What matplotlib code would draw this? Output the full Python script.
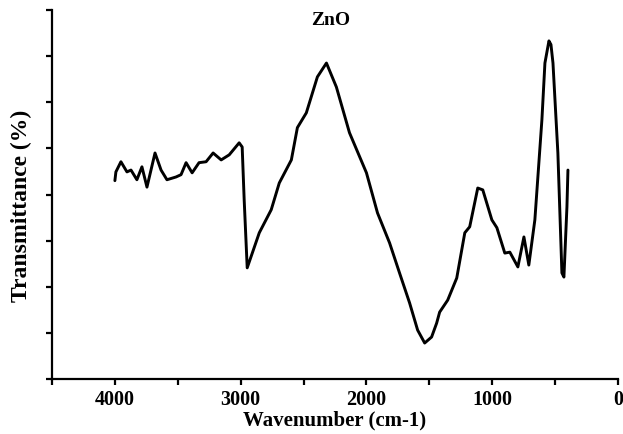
"""FTIR spectrum of ZnO, transmittance vs wavenumber."""
import numpy as np
import matplotlib
matplotlib.use("Agg")
import matplotlib.pyplot as plt
from matplotlib.ticker import MultipleLocator, NullFormatter

# (arbitrary transmittance units, 0-8)
wavenumber = [4000, 3992, 3952, 3904, 3872, 3825, 3785, 3745, 3681, 3633,
              3586, 3514, 3474, 3434, 3386, 3331, 3275, 3219, 3155, 3091,
              3012, 2988, 2972, 2948, 2852, 2757, 2693, 2597, 2549, 2478,
              2390, 2318, 2239, 2135, 2000, 1912, 1816, 1737, 1657, 1593,
              1537, 1482, 1442, 1418, 1354, 1282, 1218, 1179, 1115, 1075,
              1003, 963, 900, 860, 796, 748, 709, 661, 605, 581,
              549, 533, 517, 478, 446, 430, 406, 398]
transmittance = [4.30, 4.49, 4.71, 4.49, 4.53, 4.32, 4.60, 4.16, 4.90, 4.53,
                 4.32, 4.38, 4.43, 4.69, 4.47, 4.69, 4.71, 4.90, 4.75, 4.86,
                 5.12, 5.03, 3.88, 2.41, 3.17, 3.67, 4.25, 4.75, 5.45, 5.77,
                 6.55, 6.85, 6.33, 5.34, 4.47, 3.60, 2.95, 2.30, 1.65, 1.06,
                 0.78, 0.91, 1.21, 1.45, 1.71, 2.19, 3.17, 3.30, 4.14, 4.10,
                 3.45, 3.28, 2.73, 2.75, 2.43, 3.08, 2.47, 3.45, 5.62, 6.85,
                 7.33, 7.25, 6.85, 4.90, 2.30, 2.21, 3.73, 4.53]

plt.rcParams['font.family'] = ['Liberation Serif', 'DejaVu Serif']
plt.rcParams['font.weight'] = 'bold'

fig = plt.figure(figsize=(6.23, 4.34), dpi=100)
ax = fig.add_axes([52/623, 55/434, 566/623, 369/434])

ax.plot(wavenumber, transmittance, color="black", lw=2.1,
        solid_joinstyle="round", solid_capstyle="round")

ax.set_xlim(4500, 0)
ax.set_ylim(0, 8)
ax.xaxis.set_major_locator(MultipleLocator(1000))
ax.xaxis.set_minor_locator(MultipleLocator(500))
ax.xaxis.set_minor_formatter(NullFormatter())
ax.yaxis.set_major_locator(MultipleLocator(1))
ax.set_yticklabels([])

for s in ("top", "right"):
    ax.spines[s].set_visible(False)
for s in ("left", "bottom"):
    ax.spines[s].set_linewidth(1.6)
ax.tick_params(which="both", direction="out", length=4, width=1.6)
ax.tick_params(axis="x", labelsize=14.5, pad=4)

ax.set_xlabel("Wavenumber (cm-1)", fontsize=15, fontweight="bold", labelpad=0)
ax.set_ylabel("Transmittance (%)", fontsize=17, fontweight="bold")
ax.yaxis.set_label_coords(-0.036, 0.47)
ax.text(0.53, 0.952, "ZnO", transform=fig.transFigure, ha="center", va="center",
        fontsize=14, fontweight="bold")

fig.savefig("out.png", dpi=100)
